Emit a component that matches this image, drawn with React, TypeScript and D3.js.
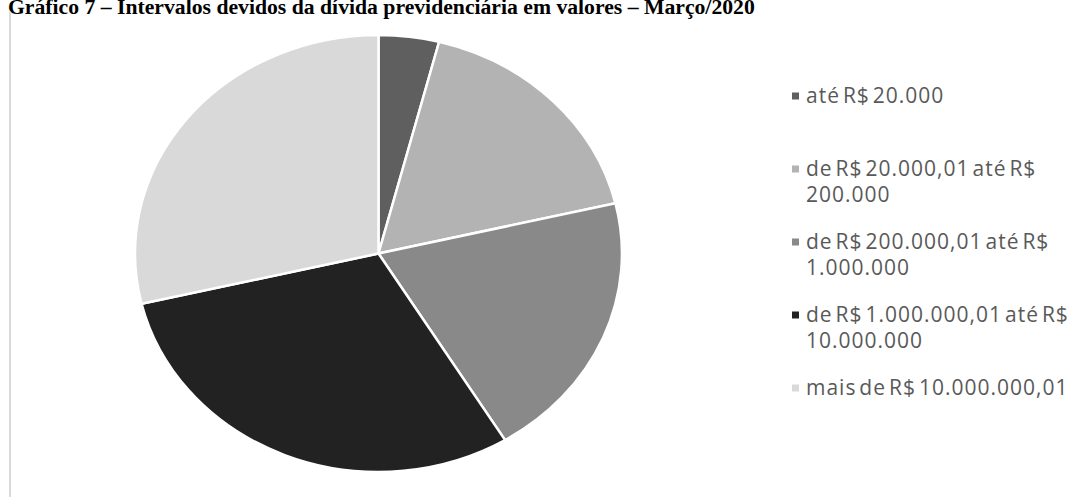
import React from "react";
import * as d3 from "d3";

const title = "Gráfico 7 – Intervalos devidos da dívida previdenciária em valores – Março/2020";
const categories = [
  "até R$ 20.000",
  "de R$ 20.000,01 até R$ 200.000",
  "de R$ 200.000,01 até R$ 1.000.000",
  "de R$ 1.000.000,01 até R$ 10.000.000",
  "mais de R$ 10.000.000,01",
];
const legendLines = [
  ["até R$ 20.000"],
  ["de R$ 20.000,01 até R$", "200.000"],
  ["de R$ 200.000,01 até R$", "1.000.000"],
  ["de R$ 1.000.000,01 até R$", "10.000.000"],
  ["mais de R$ 10.000.000,01"],
];
const values = [4.0, 17.3, 20.0, 30.0, 28.7];
const colors = ["#5f5f5f", "#b3b3b3", "#898989", "#222222", "#d9d9d9"];

export default function App() {
  const W = 1092, H = 497;
  const cx = 378.5, cy = 253.5, rx = 243.5, ry = 218.5;
  const pie = d3.pie<number>().sort(null).value((d) => d)(values);
  const arc = d3.arc<d3.PieArcDatum<number>>().innerRadius(0).outerRadius(1);
  const legendY = d3.scalePoint<string>().domain(categories).range([96, 388]);
  const lineH = 26;

  return (
    <svg width={W} height={H} style={{ position: "absolute", left: 0, top: 0, background: "#fff" }}>
      <text x={8} y={14} fontFamily="'Liberation Serif', 'Times New Roman', serif" fontWeight="bold" fontSize={21.7} fill="#000">
        {title}
      </text>
      <line x1={10} x2={10} y1={12} y2={H} stroke="#d9d9d9" strokeWidth={2} />
      <g transform={`translate(${cx},${cy}) scale(${rx},${ry})`}>
        {pie.map((p, i) => (
          <path key={i} d={arc(p) || ""} fill={colors[i]} stroke="#fff" strokeWidth={2.5} vectorEffect="non-scaling-stroke" strokeLinejoin="round" />
        ))}
      </g>
      <g fontFamily="'Open Sans', sans-serif" fontSize={21} fill="#595959">
        {categories.map((c, i) => {
          const y0 = legendY(c)!;
          return (
            <g key={c}>
              <rect x={792} y={y0 - 3.5} width={7} height={7} fill={colors[i]} />
              {legendLines[i].map((l, j) => (
                <text key={j} x={806} y={y0 + j * lineH} dy="0.35em" letterSpacing={1} wordSpacing={-3.5}>
                  {l}
                </text>
              ))}
            </g>
          );
        })}
      </g>
    </svg>
  );
}
